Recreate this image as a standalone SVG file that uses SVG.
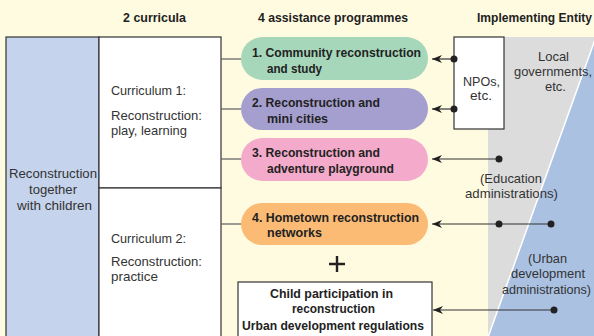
<svg xmlns="http://www.w3.org/2000/svg" width="594" height="336" viewBox="0 0 594 336">
<defs>
<style>
.t{font-family:"Liberation Sans",Arial,sans-serif;font-size:13px;fill:#333}
.b{font-weight:bold;fill:#222}
.box{stroke:#333;stroke-width:1.2}
.link{stroke:#666;stroke-width:1.3;fill:none}
.arr{stroke:#333;stroke-width:1.2;fill:none;marker-start:url(#ah)}
.dot{fill:#222}
</style>
<marker id="ah" viewBox="0 0 10 8" refX="0" refY="4" markerWidth="10" markerHeight="8" markerUnits="userSpaceOnUse" orient="auto">
<path d="M0,4 L10,0 L7,4 L10,8 Z" fill="#222"/>
</marker>
</defs>
<rect width="594" height="336" fill="#FFFBE0"/>
<g id="entity-bg">
<polygon points="504,37 600,37 600,340 488,340 488,129 504,129" fill="#DCDCDC"/>
<polygon points="596,37 600,37 600,340 487,340" fill="#AAC1E2"/>
<line x1="596" y1="37" x2="487" y2="340" stroke="#fff" stroke-width="1.5"/>
</g>
<g id="headers">
<text class="t b" x="123" y="22" textLength="63" lengthAdjust="spacingAndGlyphs">2 curricula</text>
<text class="t b" x="258" y="22" textLength="150" lengthAdjust="spacingAndGlyphs">4 assistance programmes</text>
<text class="t b" x="477" y="22" textLength="115" lengthAdjust="spacingAndGlyphs">Implementing Entity</text>
</g>
<g id="main">
<rect class="box" x="6" y="37" width="93" height="310" fill="#C5D3EC"/>
<text class="t" x="9" y="178" textLength="88" lengthAdjust="spacingAndGlyphs">Reconstruction</text>
<text class="t" x="29" y="194" textLength="48" lengthAdjust="spacingAndGlyphs">together</text>
<text class="t" x="17" y="210" textLength="75" lengthAdjust="spacingAndGlyphs">with children</text>
</g>
<g id="curriculum1">
<rect class="box" x="99" y="37" width="122" height="151" fill="#fff"/>
<text class="t" x="111" y="95" textLength="75" lengthAdjust="spacingAndGlyphs">Curriculum 1:</text>
<text class="t" x="111" y="120" textLength="91" lengthAdjust="spacingAndGlyphs">Reconstruction:</text>
<text class="t" x="111" y="135" textLength="76" lengthAdjust="spacingAndGlyphs">play, learning</text>
</g>
<g id="curriculum2">
<rect class="box" x="99" y="188" width="122" height="160" fill="#fff"/>
<text class="t" x="111" y="243" textLength="75" lengthAdjust="spacingAndGlyphs">Curriculum 2:</text>
<text class="t" x="111" y="266" textLength="91" lengthAdjust="spacingAndGlyphs">Reconstruction:</text>
<text class="t" x="111" y="281" textLength="47" lengthAdjust="spacingAndGlyphs">practice</text>
</g>
<g id="p1">
<rect x="241" y="37" width="187" height="43" rx="21.5" fill="#A6D7BA"/>
<text class="t b" x="252" y="57" textLength="169" lengthAdjust="spacingAndGlyphs">1. Community reconstruction</text>
<text class="t b" x="267" y="73" textLength="55" lengthAdjust="spacingAndGlyphs">and study</text>
</g>
<g id="p2">
<rect x="241" y="88" width="187" height="42" rx="21" fill="#A59FCF"/>
<text class="t b" x="252" y="107" textLength="128" lengthAdjust="spacingAndGlyphs">2. Reconstruction and</text>
<text class="t b" x="267" y="123" textLength="61" lengthAdjust="spacingAndGlyphs">mini cities</text>
</g>
<g id="p3">
<rect x="241" y="138" width="187" height="43" rx="21.5" fill="#F4AACB"/>
<text class="t b" x="252" y="157" textLength="128" lengthAdjust="spacingAndGlyphs">3. Reconstruction and</text>
<text class="t b" x="267" y="173" textLength="127" lengthAdjust="spacingAndGlyphs">adventure playground</text>
</g>
<g id="p4">
<rect x="241" y="203" width="187" height="42" rx="21" fill="#FBBB74"/>
<text class="t b" x="252" y="222" textLength="167" lengthAdjust="spacingAndGlyphs">4. Hometown reconstruction</text>
<text class="t b" x="267" y="237" textLength="55" lengthAdjust="spacingAndGlyphs">networks</text>
</g>
<g id="plus">
<path d="M329,264 H345 M337,256 V272" stroke="#222" stroke-width="2.4"/>
</g>
<g id="regs">
<rect class="box" x="238" y="282" width="194" height="66" fill="#fff"/>
<text class="t b" x="270" y="298" textLength="123" lengthAdjust="spacingAndGlyphs">Child participation in</text>
<text class="t b" x="292" y="313" textLength="83" lengthAdjust="spacingAndGlyphs">reconstruction</text>
<text class="t b" x="242" y="330" textLength="182" lengthAdjust="spacingAndGlyphs">Urban development regulations</text>
</g>
<g id="npo">
<rect class="box" x="454" y="37" width="50" height="92" fill="#fff"/>
<text class="t" x="463" y="86" textLength="37" lengthAdjust="spacingAndGlyphs">NPOs,</text>
<text class="t" x="470" y="100" textLength="22" lengthAdjust="spacingAndGlyphs">etc.</text>
</g>
<g id="labels">
<text class="t" x="538" y="61" textLength="31" lengthAdjust="spacingAndGlyphs">Local</text>
<text class="t" x="514" y="76" textLength="78" lengthAdjust="spacingAndGlyphs">governments,</text>
<text class="t" x="545" y="91" textLength="21" lengthAdjust="spacingAndGlyphs">etc.</text>
<text class="t" x="480" y="183" textLength="62" lengthAdjust="spacingAndGlyphs">(Education</text>
<text class="t" x="465" y="198" textLength="93" lengthAdjust="spacingAndGlyphs">administrations)</text>
<text class="t" x="528" y="263" textLength="39" lengthAdjust="spacingAndGlyphs">(Urban</text>
<text class="t" x="511" y="278" textLength="74" lengthAdjust="spacingAndGlyphs">development</text>
<text class="t" x="502" y="294" textLength="89" lengthAdjust="spacingAndGlyphs">administrations)</text>
</g>
<g id="connectors">
<line class="link" x1="221" y1="59" x2="241" y2="59"/>
<line class="link" x1="221" y1="109" x2="241" y2="109"/>
<line class="link" x1="221" y1="159" x2="241" y2="159"/>
<line class="link" x1="221" y1="224" x2="241" y2="224"/>
<line class="arr" x1="432" y1="59" x2="454" y2="59"/>
<line class="arr" x1="432" y1="109" x2="454" y2="109"/>
<line class="arr" x1="432" y1="159" x2="499" y2="159"/>
<line class="arr" x1="432" y1="224" x2="551" y2="224"/>
<line class="arr" x1="433" y1="310" x2="554" y2="310"/>
<circle class="dot" cx="454" cy="59" r="3.5"/>
<circle class="dot" cx="454" cy="109" r="3.5"/>
<circle class="dot" cx="499" cy="159" r="3.5"/>
<circle class="dot" cx="499" cy="224" r="3.5"/>
<circle class="dot" cx="551" cy="224" r="3.5"/>
<circle class="dot" cx="554" cy="310" r="3.5"/>
</g>
</svg>
